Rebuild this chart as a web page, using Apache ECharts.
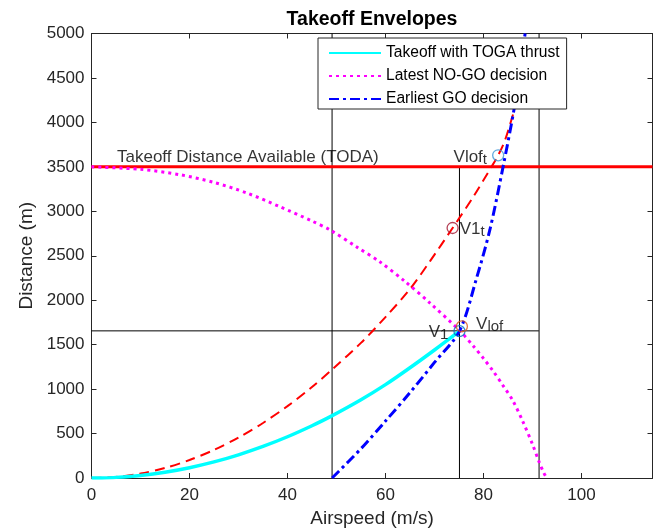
<!DOCTYPE html>
<html>
<head>
<meta charset="utf-8">
<script src="https://cdn.jsdelivr.net/npm/echarts@6/dist/echarts.min.js"></script>
<style>
html,body{margin:0;padding:0;background:#fff;}
#chart{width:663px;height:529px;}
</style>
</head>
<body>
<div id="chart"></div>
<script>
// ---- data ----
const xTicks = [0, 20, 40, 60, 80, 100];
const yTicks = [0, 500, 1000, 1500, 2000, 2500, 3000, 3500, 4000, 4500, 5000];
const xMax = 114.5;
const yMax = 5000;

const togaX = [0, 2, 5, 10, 15, 20, 25, 30, 35, 40, 45, 48.75, 55, 60, 65, 70, 75.1];
const togaY = [0, 1, 7, 29, 65, 116, 181, 261, 355, 464, 588, 690, 880, 1050, 1240, 1440, 1652];

const noGoX = [0, 10, 18, 25, 31.7, 38.5, 45, 48.7, 54.1, 58.9, 64, 69.1, 75.1, 78, 80, 82, 84, 86, 88, 90, 91.4, 92.3, 92.9];
const noGoY = [3500, 3472, 3412, 3325, 3206, 3050, 2890, 2790, 2600, 2430, 2210, 1967, 1660, 1480, 1345, 1200, 1040, 870, 640, 380, 175, 60, 0];

const goX = [49.1, 55, 60, 65, 70, 75.1, 78.6, 81.3, 84, 86.5, 88.5];
const goY = [0, 330, 640, 960, 1300, 1652, 2250, 2790, 3500, 4230, 5000];

const toX = [0, 5, 10, 15, 20, 25, 30, 35, 40, 45, 49.4, 55, 60, 65, 69.1, 73.7, 78, 81.7, 83, 84.4, 86.4, 88];
const toY = [0, 12, 50, 113, 202, 316, 455, 619, 808, 1023, 1235, 1520, 1810, 2125, 2440, 2812, 3170, 3506, 3630, 3800, 4160, 4480];

const todaY = 3500;
const todaLabel = 'Takeoff Distance Available (TODA)';
const vLines = [[49.1, 0, 5000], [75.1, 0, 3500], [91.35, 0, 5000]];
const hLines = [[1655, 0, 91.3]];

const markerPts = [
  {name: 'V1t', x: 73.7, y: 2812, color: '#A2142F'},
  {name: 'Vloft', x: 83.0, y: 3630, color: '#3A93D6'},
  {name: 'V1', x: 75.1, y: 1652, color: '#0072BD'},
  {name: 'Vlof', x: 75.6, y: 1705, color: '#D95319'}
];

const seriesNames = ['Takeoff with TOGA thrust', 'Latest NO-GO decision', 'Earliest GO decision'];

const zip = (xs, ys) => xs.map((x, i) => [x, ys[i]]);
const FONT = 'Liberation Sans, Arial, Helvetica, sans-serif';
const AX = '#262626';

const chart = echarts.init(document.getElementById('chart'));

const sub = {fontSize: 15, fontFamily: FONT, color: '#000', lineHeight: 2, verticalAlign: 'bottom'};
const main = {fontSize: 17, fontFamily: FONT, color: '#000', lineHeight: 20};

const labelCfg = {
  V1t: {show: true, position: 'right', distance: 1, offset: [0, 1], formatter: '{m|V1}{s|t}'},
  Vloft: {show: true, position: 'left', distance: 5, offset: [0, 2], formatter: '{m|Vlof}{s|t}'},
  V1: {show: true, position: 'left', distance: 5, offset: [0, 1], formatter: '{m|V}{s|1}'},
  Vlof: {show: true, position: 'right', distance: 8, offset: [0, -2], formatter: '{m|V}{s|lof}'}
};

const series = [];

vLines.forEach(v => series.push({
  type: 'line', data: [[v[0], v[1]], [v[0], v[2]]], symbol: 'none', silent: true,
  lineStyle: {color: '#000', width: 1}, z: 1
}));
hLines.forEach(h => series.push({
  type: 'line', data: [[h[1], h[0]], [h[2], h[0]]], symbol: 'none', silent: true,
  lineStyle: {color: '#000', width: 1}, z: 1
}));

series.push({
  type: 'line', data: [[0, todaY], [xMax, todaY]], symbol: 'none', silent: true,
  lineStyle: {color: '#FF0000', width: 3}, z: 2
});
series.push({
  type: 'scatter', data: [[5.2, todaY]], symbolSize: 0, silent: true, z: 6,
  label: {show: true, position: 'right', distance: 0, offset: [0, -10], formatter: todaLabel,
    fontSize: 17, fontFamily: FONT, color: '#000'}
});

series.push({
  type: 'line', data: zip(toX, toY), symbol: 'none', smooth: 0.3, silent: true,
  lineStyle: {color: '#FF0000', width: 2, type: [10, 6]}, z: 3
});

series.push({
  name: seriesNames[0], type: 'line', data: zip(togaX, togaY), symbol: 'none', smooth: 0.3,
  lineStyle: {color: '#00FFFF', width: 3.5}, itemStyle: {color: '#00FFFF'}, z: 4
});
series.push({
  name: seriesNames[1], type: 'line', data: zip(noGoX, noGoY), symbol: 'none', smooth: 0.3,
  lineStyle: {color: '#FF00FF', width: 3, type: [3, 4]}, itemStyle: {color: '#FF00FF'}, z: 4
});
series.push({
  name: seriesNames[2], type: 'line', data: zip(goX, goY), symbol: 'none', smooth: 0.3,
  lineStyle: {color: '#0000FF', width: 3, type: [10, 4, 3, 4]}, itemStyle: {color: '#0000FF'}, z: 4
});

markerPts.forEach(p => series.push({
  type: 'scatter', data: [[p.x, p.y]], symbol: 'circle', symbolSize: 11, silent: true, z: 5,
  itemStyle: {color: 'rgba(0,0,0,0)', borderColor: p.color, borderWidth: 1.3},
  label: Object.assign({rich: {m: main, s: sub}}, labelCfg[p.name])
}));

chart.setOption({
  animation: false,
  backgroundColor: '#fff',
  title: {
    text: 'Takeoff Envelopes', left: 367, top: 5, textAlign: 'center',
    textStyle: {fontSize: 19.5, fontWeight: 'bold', fontFamily: FONT, color: '#000'}
  },
  grid: {left: 91.5, right: 10.5, top: 33.5, bottom: 51, containLabel: false, outerBoundsMode: 'none'},
  legend: {
    data: seriesNames, orient: 'vertical', left: 318, top: 38, z: 20,
    itemWidth: 52, itemHeight: 14, itemGap: 7,
    padding: [7, 7, 2, 10],
    borderColor: AX, borderWidth: 1, backgroundColor: '#fff',
    itemStyle: {opacity: 0},
    textStyle: {fontSize: 15.6, fontFamily: FONT, color: '#000'},
    selectedMode: false
  },
  xAxis: [
    {
      type: 'value', min: 0, max: xMax, interval: 20, position: 'bottom',
      name: 'Airspeed (m/s)', nameLocation: 'middle', nameGap: 31,
      nameTextStyle: {fontSize: 19, fontFamily: FONT, color: AX},
      axisLine: {show: true, onZero: false, lineStyle: {color: AX, width: 1}},
      axisTick: {show: true, inside: true, length: 5, lineStyle: {color: AX, width: 1}},
      axisLabel: {show: true, inside: false, fontSize: 17, fontFamily: FONT, color: AX, margin: 9,
        formatter: v => xTicks.indexOf(v) >= 0 ? String(v) : ''},
      splitLine: {show: false}
    },
    {
      type: 'value', min: 0, max: xMax, interval: 20, position: 'top',
      axisLine: {show: true, onZero: false, lineStyle: {color: AX, width: 1}},
      axisTick: {show: true, inside: true, length: 5, lineStyle: {color: AX, width: 1}},
      axisLabel: {show: false},
      splitLine: {show: false}
    }
  ],
  yAxis: [
    {
      type: 'value', min: 0, max: yMax, interval: 500, position: 'left',
      name: 'Distance (m)', nameLocation: 'middle', nameGap: 54,
      nameTextStyle: {fontSize: 19, fontFamily: FONT, color: AX},
      axisLine: {show: true, onZero: false, lineStyle: {color: AX, width: 1}},
      axisTick: {show: true, inside: true, length: 5, lineStyle: {color: AX, width: 1}},
      axisLabel: {show: true, inside: false, fontSize: 17, fontFamily: FONT, color: AX, margin: 7,
        formatter: v => yTicks.indexOf(v) >= 0 ? String(v) : ''},
      splitLine: {show: false}
    },
    {
      type: 'value', min: 0, max: yMax, interval: 500, position: 'right',
      axisLine: {show: true, onZero: false, lineStyle: {color: AX, width: 1}},
      axisTick: {show: true, inside: true, length: 5, lineStyle: {color: AX, width: 1}},
      axisLabel: {show: false},
      splitLine: {show: false}
    }
  ],
  series: series
});
</script>
</body>
</html>
